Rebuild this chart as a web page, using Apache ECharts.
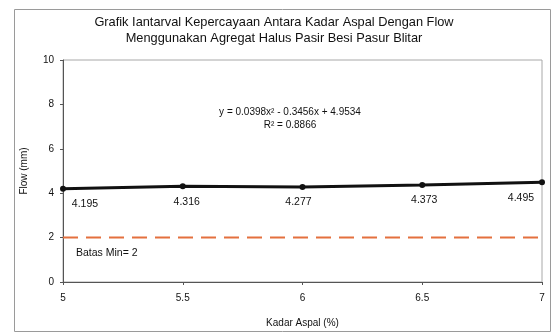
<!DOCTYPE html>
<html>
<head>
<meta charset="utf-8">
<style>
  html, body { margin: 0; padding: 0; background: #fff; }
  #chart { width: 553px; height: 334px; }
</style>
<script src="https://cdn.jsdelivr.net/npm/echarts@6/dist/echarts.min.js"></script>
</head>
<body>
<div id="chart"></div>
<script>
// Asphalt content (%) and measured flow (mm)
const kadarAspal = [5, 5.5, 6, 6.5, 7];
const flow = [4.195, 4.316, 4.277, 4.373, 4.495];
const batasMin = 2;
const xTicks = [5, 5.5, 6, 6.5, 7];
const yTicks = [0, 2, 4, 6, 8, 10];
// horizontal nudges for the value labels at the chart edges
const labelShift = [22, 4, -4, 2, -21];

const titleText = 'Grafik Iantarval Kepercayaan Antara Kadar Aspal Dengan Flow\nMenggunakan Agregat Halus Pasir Besi Pasur Blitar';
const equationText = 'y = 0.0398x² - 0.3456x + 4.9534\nR² = 0.8866';

const chart = echarts.init(document.getElementById('chart'), null, { renderer: 'canvas' });
const font = 'Liberation Sans, Arial, sans-serif';

chart.setOption({
  animation: false,
  backgroundColor: '#fff',
  textStyle: { fontFamily: font },
  title: {
    text: titleText,
    left: 269, top: 9, textAlign: 'center',
    textStyle: { fontSize: 12.8, fontWeight: 'normal', color: '#111', lineHeight: 16, fontFamily: font }
  },
  graphic: [
    {
      type: 'rect', left: 14, top: 9, z: -1,
      shape: { width: 536, height: 322 },
      style: { fill: '#fff', stroke: '#9a9a9a', lineWidth: 1 }
    },
    {
      type: 'text', x: 290, y: 106, z: 10,
      style: { text: equationText, font: '10px ' + font, fill: '#111', align: 'center', verticalAlign: 'top', lineHeight: 13 }
    }
  ],
  grid: { left: 63, right: 11, top: 60, bottom: 52, show: true, borderColor: '#a8a8a8', borderWidth: 1 },
  xAxis: {
    type: 'value', min: 5, max: 7, interval: 0.5,
    name: 'Kadar Aspal (%)', nameLocation: 'middle', nameGap: 36,
    nameTextStyle: { fontSize: 10, color: '#111', fontFamily: font },
    axisLine: { lineStyle: { color: '#555', width: 1 } },
    axisTick: { show: true, length: 3, lineStyle: { color: '#555' } },
    axisLabel: {
      fontSize: 10, color: '#111', margin: 11,
      formatter: v => xTicks.includes(v) ? String(v) : ''
    },
    splitLine: { show: false }
  },
  yAxis: {
    type: 'value', min: 0, max: 10, interval: 2,
    name: 'Flow (mm)', nameLocation: 'middle', nameGap: 34,
    nameTextStyle: { fontSize: 10, color: '#111', fontFamily: font },
    axisLine: { show: true, lineStyle: { color: '#555', width: 1 } },
    axisTick: { show: true, length: 3, lineStyle: { color: '#555' } },
    axisLabel: {
      fontSize: 10, color: '#111', margin: 9,
      formatter: v => yTicks.includes(v) ? String(v) : ''
    },
    splitLine: { show: false }
  },
  series: [
    {
      type: 'line',
      data: kadarAspal.map((x, i) => [x, flow[i]]),
      lineStyle: { color: '#111', width: 3 },
      itemStyle: { color: '#111' },
      symbol: 'circle', symbolSize: 6,
      label: {
        show: true, position: 'bottom', distance: 7,
        fontSize: 10.5, color: '#111', fontFamily: font,
        formatter: p => p.value[1].toFixed(3)
      },
      labelLayout: p => ({ dx: labelShift[p.dataIndex] }),
      z: 3
    },
    {
      type: 'line',
      data: [[5, batasMin], [7, batasMin]],
      symbol: 'none',
      lineStyle: { color: '#e4703e', width: 2, type: [15, 8] },
      markPoint: {
        symbol: 'circle', symbolSize: 0,
        data: [{ coord: [5, batasMin] }],
        label: {
          show: true, formatter: 'Batas Min= ' + batasMin,
          fontSize: 10.5, color: '#111', fontFamily: font,
          position: 'right', distance: 0, offset: [13, 16]
        }
      },
      z: 2
    }
  ]
});
</script>
</body>
</html>
